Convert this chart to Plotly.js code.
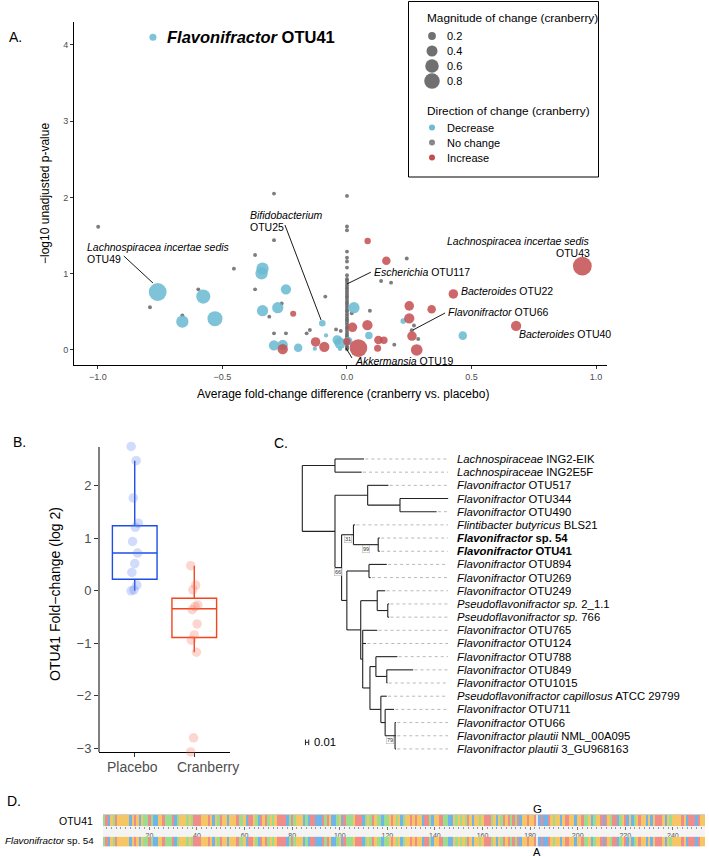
<!DOCTYPE html>
<html><head><meta charset="utf-8">
<script src="https://cdn.plot.ly/plotly-3.0.1.min.js"></script>
<style>html,body{margin:0;padding:0;background:#fff}</style>
</head><body><div id="chart" style="width:709px;height:857px"></div>
<script>
// ===== Panel A: volcano-style plot =====
const blueX   = [-0.779,-0.760,-0.577,-0.530,-0.661,-0.339,-0.343,-0.245,-0.278,-0.339,-0.099,-0.084,-0.293,-0.258,-0.196,-0.129,-0.039,-0.028,-0.028, 0.028, 0.088, 0.226, 0.465, 0.005];
const blueY   = [ 4.100, 0.760, 0.700, 0.410, 0.371, 1.066, 1.005, 0.795, 0.555, 0.515, 0.350, 0.190, 0.060, 0.066, 0.030, 0.017, 0.131, 0.088, 0.013, 0.555, 0.190, 0.380, 0.188, 0.118];
const blueMag = [ 0.165, 1.060, 0.660, 0.750, 0.500, 0.500, 0.500, 0.350, 0.420, 0.420, 0.145, 0.060, 0.350, 0.350, 0.240, 0.060, 0.300, 0.420, 0.060, 0.420, 0.185, 0.105, 0.240, 0.240];

const redX   = [-0.216,-0.258,-0.126,-0.091, 0.000, 0.022, 0.046, 0.083, 0.158, 0.082, 0.250, 0.250, 0.261, 0.280, 0.126, 0.148, 0.123, 0.945, 0.427, 0.340, 0.679];
const redY   = [ 0.476, 0.010, 0.105, 0.040, 0.110, 0.297, 0.025, 1.428, 1.170, 0.325, 0.578, 0.415, 0.183, 0.000, 0.131, 0.128, 0.022, 1.100, 0.734, 0.533, 0.315];
const redMag = [ 0.120, 0.350, 0.300, 0.350, 0.185, 0.300, 1.030, 0.135, 0.240, 0.350, 0.300, 0.350, 0.300, 0.450, 0.240, 0.185, 0.165, 1.170, 0.300, 0.240, 0.350];

const grayX = [-0.999,-0.293,-0.293,-0.369,-0.454,-0.597,-0.369,-0.791,-0.661,-0.262,-0.312,-0.087,-0.293,-0.245,-0.162,-0.149,-0.044,-0.025, 0.240, 0.137, 0.177, 0.019, 0.092, 0.269, 0.260, 0.286, 0.190,
  0,0,0,0,0,0,0,0,0,0,0,0,0,0,0,0,0,0,0,0,0,0,0,0,0,0,0,0,0,0,0,0,0,0,0,0,0,0,0,0,0,0,0];
const grayY = [ 1.616, 2.050, 1.440, 1.245, 1.066, 0.795, 0.795, 0.560, 0.454, 0.610, 0.437, 0.700, 0.218, 0.218, 0.218, 0.262, 0.270, 0.250, 1.200, 0.905, 0.883, 0.480, 0.515, 0.320, 0.258, 0.144, 0.070,
  2.02,1.62,1.57,1.29,1.21,1.16,1.08,0.98,0.93,0.91,0.88,0.85,0.82,0.80,0.77,0.74,0.71,0.69,0.66,0.63,0.61,0.58,0.55,0.52,0.50,0.47,0.44,0.41,0.39,0.36,0.33,0.30,0.28,0.25,0.22,0.19,0.17,0.14,0.11,0.08,0.05,0.03,0.01];
const grayMag = grayX.map(() => 0.03);

const aTickVals = [-1, -0.5, 0, 0.5, 1];
const aTickText = ['\u22121.0', '\u22120.5', '0.0', '0.5', '1.0'];
const magLegend = [0.2, 0.4, 0.6, 0.8];
const dirLegend = ['Decrease', 'No change', 'Increase'];

// ===== Panel B: OTU41 fold change =====
const groups = ['Placebo', 'Cranberry'];
const placeboVals   = [2.75, 2.48, 1.77, 1.29, 1.21, 0.94, 0.72, 0.52, 0.35, 0.11, 0.02, 0.00];
const cranberryVals = [0.48, 0.11, 0.02, -0.27, -0.30, -0.36, -0.63, -0.84, -0.94, -1.17, -2.80, -3.07];
const boxQ1 = [0.22, -0.89], boxMed = [0.72, -0.34], boxQ3 = [1.24, -0.14], boxLo = [0.00, -1.17], boxHi = [2.48, 0.48];
const bYTicks = [-3, -2, -1, 0, 1, 2];

// ===== Panel C: phylogenetic tree =====
const leafNames = [
  '<i>Lachnospiraceae</i> ING2-EIK', '<i>Lachnospiraceae</i> ING2E5F', '<i>Flavonifractor</i> OTU517',
  '<i>Flavonifractor</i> OTU344', '<i>Flavonifractor</i> OTU490', '<i>Flintibacter butyricus</i> BLS21',
  '<b><i>Flavonifractor</i> sp. 54</b>', '<b><i>Flavonifractor</i> OTU41</b>', '<i>Flavonifractor</i> OTU894',
  '<i>Flavonifractor</i> OTU269', '<i>Flavonifractor</i> OTU249', '<i>Pseudoflavonifractor sp.</i> 2_1.1',
  '<i>Pseudoflavonifractor sp.</i> 766', '<i>Flavonifractor</i> OTU765', '<i>Flavonifractor</i> OTU124',
  '<i>Flavonifractor</i> OTU788', '<i>Flavonifractor</i> OTU849', '<i>Flavonifractor</i> OTU1015',
  '<i>Pseudoflavonifractor capillosus</i> ATCC 29799', '<i>Flavonifractor</i> OTU711', '<i>Flavonifractor</i> OTU66',
  '<i>Flavonifractor plautii</i> NML_00A095', '<i>Flavonifractor plautii</i> 3_GU968163'];
const leafDepth = [0.187,0.180,0.261,0.442,0.407,0.160,0.235,0.235,0.256,0.207,0.251,0.263,0.263,0.227,0.193,0.288,0.336,0.258,0.256,0.278,0.284,0.284,0.284];
const tree = {d:0, c:[
  {d:0.099, c:[0,1]},
  {d:0.099, c:[
    {d:0.198, c:[2, {d:0.296, c:[3,4]}]},
    {d:0.119, b:66, c:[
      {d:0.155, b:31, c:[5, {d:0.230, b:99, c:[6,7]}]},
      {d:0.135, c:[
        {d:0.202, c:[8,9]},
        {d:0.177, c:[
          {d:0.227, c:[10, {d:0.259, c:[11,12]}]},
          {d:0.183, c:[13, 14, {d:0.205, c:[
            {d:0.223, c:[15, {d:0.256, c:[16,17]}]},
            {d:0.238, c:[18, {d:0.251, c:[19, {d:0.281, b:79, c:[20,21,22]}]}]}
          ]}]}
        ]}
      ]}
    ]}
  ]}
]};
const scaleBarLen = 0.01;

// ===== Panel D: V4 alignment =====
const seqOTU41 = "TACGTAGGGG"+"GCGAGCGTTA"+"TCCGGATTTA"+"CTGGGTGTAA"+"AGGGAGCGTA"+"GGCGGGATTG"+"CAAGTCAGAT"+"GTGAAAACTA"+"TGGGCTCAAC"+"CCATAGCCTG"+
                 "CATTTGAAAC"+"TGTAGTTCTT"+"GAGTGCTGGA"+"GAGGCAATCG"+"GAATTCCGTG"+"TGTAGCGGTG"+"AAATGCGTAG"+"ATATACGGAG"+"GAGCACCAGT"+"GGCGAAGGCG"+
                 "GATTGCTGGA"+"CAGTAACTGA"+"CGCTGAGGCG"+"CGAAAGCGTG"+"GGGAGCAAAC"+"AGG";
const seqSp54  = "TACGTAGGGG"+"GCGAGCGTTA"+"TCCGGATTTA"+"CTGGGTGTAA"+"AGGGAGCGTA"+"GGCGGGATTG"+"CAAGTCAGAT"+"GTGAAAACTA"+"TGGGCTCAAC"+"CCATAGCCTG"+
                 "CATTTGAAAC"+"TGTAGTTCTT"+"GAGTGCTGGA"+"GAGGCAATCG"+"GAATTCCGTG"+"TGTAGCGGTG"+"AAATGCGTAG"+"ATATACGGAG"+"GAACACCAGT"+"GGCGAAGGCG"+
                 "GATTGCTGGA"+"CAGTAACTGA"+"CGCTGAGGCG"+"CGAAAGCGTG"+"GGGAGCAAAC"+"AGG";
const rowNames = ['OTU41', '<i>Flavonifractor</i> sp. 54'];

// ================= drawing =================
const W = 709, H = 857;
const PX = v => v / W, PY = v => 1 - v / H;
const FONT = 'Liberation Sans, Arial, Helvetica, sans-serif';
const BLUE = '#6cbbd3', RED = '#c44d50', GRAY = '#666666';
const SIZEREF = 0.0066;
const traces = [];
const ann = [];
const shapes = [];

// Panel A points
traces.push({type:'scatter', mode:'markers', x:grayX, y:grayY, xaxis:'x', yaxis:'y', cliponaxis:false,
  marker:{size:grayMag, sizemode:'area', sizeref:SIZEREF*0.6, color:GRAY, opacity:0.85, line:{width:0}}, hoverinfo:'skip'});
traces.push({type:'scatter', mode:'markers', x:blueX, y:blueY, xaxis:'x', yaxis:'y', cliponaxis:false,
  marker:{size:blueMag, sizemode:'area', sizeref:SIZEREF, color:BLUE, opacity:0.88, line:{width:0}}, hoverinfo:'skip'});
traces.push({type:'scatter', mode:'markers', x:redX, y:redY, xaxis:'x', yaxis:'y', cliponaxis:false,
  marker:{size:redMag, sizemode:'area', sizeref:SIZEREF, color:RED, opacity:0.85, line:{width:0}}, hoverinfo:'skip'});

// Panel A labels (text + leader lines), in data coordinates
const aFont = {family:FONT, size:10.5, color:'black'};
function aText(x, y, text, anchor){ ann.push({xref:'x', yref:'y', x:x, y:y, text:text, showarrow:false, xanchor:anchor||'left', yanchor:'middle', font:aFont}); }
function aLine(x0, y0, x1, y1){ shapes.push({type:'line', xref:'x', yref:'y', x0:x0, y0:y0, x1:x1, y1:y1, line:{color:'black', width:0.9}}); }
ann.push({xref:'x', yref:'y', x:-0.731, y:4.10, text:'<b><i>Flavonifractor</i> OTU41</b>', showarrow:false, xanchor:'left', yanchor:'middle', font:{family:FONT, size:16.5, color:'black'}});
aText(-1.052, 1.350, '<i>Lachnospiracea incertae sedis</i>');
aText(-1.052, 1.193, 'OTU49');
aLine(-0.896, 1.232, -0.779, 0.878);
aText(-0.398, 1.770, '<i>Bifidobacterium</i>');
aText(-0.398, 1.610, 'OTU25');
aLine(-0.249, 1.638, -0.104, 0.393);
aText(0.100, 1.020, '<i>Escherichia</i> OTU117');
aLine(0.000, 0.865, 0.096, 1.020);
aText(0.983, 1.432, '<i>Lachnospiracea incertae sedis</i>', 'right');
aText(0.983, 1.275, 'OTU43', 'right');
aText(0.451, 0.769, '<i>Bacteroides</i> OTU22');
aText(0.398, 0.494, '<i>Flavonifractor</i> OTU66');
aLine(0.394, 0.485, 0.265, 0.262);
aText(0.681, 0.206, '<i>Bacteroides</i> OTU40');
aText(0.024, -0.140, '<i>Akkermansia</i> OTU19');
aLine(-0.004, 0.026, 0.020, -0.105);

// Panel A legend (hidden axes x5/y5 in pixel-like units of the legend box)
shapes.push({type:'rect', xref:'paper', yref:'paper', x0:PX(408.5), x1:PX(598.5), y0:PY(177), y1:PY(1.5), line:{color:'black', width:1}, fillcolor:'white', layer:'below'});
const lgFont = {family:FONT, size:11, color:'black'};
ann.push({xref:'x5', yref:'y5', x:17, y:17, text:'Magnitude of change (cranberry)', showarrow:false, xanchor:'left', yanchor:'middle', font:{family:FONT, size:11.8, color:'black'}});
ann.push({xref:'x5', yref:'y5', x:17, y:110, text:'Direction of change (cranberry)', showarrow:false, xanchor:'left', yanchor:'middle', font:{family:FONT, size:11.8, color:'black'}});
const magLegY = magLegend.map((v, i) => 35 + i * 15);
const dirLegY = dirLegend.map((v, i) => 126.5 + i * 15);
traces.push({type:'scatter', mode:'markers', xaxis:'x5', yaxis:'y5', x:magLegend.map(() => 24), y:magLegY, cliponaxis:false,
  marker:{size:magLegend, sizemode:'area', sizeref:SIZEREF, color:'#333333', line:{width:0}}, hoverinfo:'skip'});
traces.push({type:'scatter', mode:'markers', xaxis:'x5', yaxis:'y5', x:dirLegend.map(() => 24), y:dirLegY, cliponaxis:false,
  marker:{size:6, color:[BLUE, '#888888', RED], line:{width:0}}, hoverinfo:'skip'});
magLegend.forEach((v, i) => ann.push({xref:'x5', yref:'y5', x:37, y:magLegY[i], text:v.toFixed(1), showarrow:false, xanchor:'left', yanchor:'middle', font:lgFont}));
dirLegend.forEach((v, i) => ann.push({xref:'x5', yref:'y5', x:37, y:dirLegY[i], text:v, showarrow:false, xanchor:'left', yanchor:'middle', font:lgFont}));

// Axis titles for A
ann.push({xref:'paper', yref:'paper', x:PX(343), y:PY(394), text:'Average fold-change difference (cranberry vs. placebo)', showarrow:false, xanchor:'center', yanchor:'middle', font:{family:FONT, size:12, color:'black'}});
ann.push({xref:'paper', yref:'paper', x:PX(45), y:PY(194), text:'\u2212log10 unadjusted p-value', textangle:-90, showarrow:false, xanchor:'center', yanchor:'middle', font:{family:FONT, size:12, color:'black'}});

// Panel B (y axis extended a little beyond the drawn axis line so end points are not clipped)
const bCols = [{line:'#1d4fe6', pt:'rgba(90,125,240,0.28)'}, {line:'#f2461f', pt:'rgba(245,110,85,0.28)'}];
groups.forEach((g, i) => {
  traces.push({type:'box', xaxis:'x2', yaxis:'y2', x:[g], q1:[boxQ1[i]], median:[boxMed[i]], q3:[boxQ3[i]], lowerfence:[boxLo[i]], upperfence:[boxHi[i]],
    width:0.75, boxpoints:false, fillcolor:'rgba(255,255,255,0)', line:{color:bCols[i].line, width:1.4}, whiskerwidth:0, hoverinfo:'skip'});
});
const jit = k => ((((k * 7) % 11) / 10) - 0.5) * 0.12;
[placeboVals, cranberryVals].forEach((vals, i) => {
  traces.push({type:'scatter', mode:'markers', xaxis:'x7', yaxis:'y2', cliponaxis:false,
    x:vals.map((v, k) => i + jit(k)), y:vals, marker:{size:9.5, color:bCols[i].pt, line:{width:0}}, hoverinfo:'skip'});
});
shapes.push({type:'line', xref:'paper', yref:'y2', x0:PX(99), x1:PX(99), y0:-3.07, y1:2.74, line:{color:'black', width:1}});
ann.push({xref:'paper', yref:'paper', x:PX(55), y:PY(594), text:'OTU41 Fold\u2212change (log 2)', textangle:-90, showarrow:false, xanchor:'center', yanchor:'middle', font:{family:FONT, size:14, color:'black'}});
[[groups[0], 132], [groups[1], 207.5]].forEach(g =>
  ann.push({xref:'paper', yref:'paper', x:PX(g[1]), y:PY(767), text:g[0], showarrow:false, xanchor:'center', yanchor:'middle', font:{family:FONT, size:14, color:'#4d4d4d'}}));

// Panel C tree
const dashEnd = 0.4415, labelX = 0.4627;
const segX = [], segY = [], dX = [], dY = [], boots = [];
function walk(node, parentD){
  if (typeof node === 'number'){
    const d = leafDepth[node];
    segX.push(parentD, d, null); segY.push(node, node, null);
    if (d < dashEnd){ dX.push(d + 0.004, dashEnd, null); dY.push(node, node, null); }
    return node;
  }
  const ys = node.c.map(ch => walk(ch, node.d));
  const lo = Math.min(...ys), hi = Math.max(...ys), y = (lo + hi) / 2;
  segX.push(node.d, node.d, null); segY.push(lo, hi, null);
  if (parentD !== null){ segX.push(parentD, node.d, null); segY.push(y, y, null); }
  if (node.b) boots.push({x:(parentD + node.d) / 2, y:y, t:node.b});
  return y;
}
walk(tree, null);
traces.push({type:'scatter', mode:'lines', xaxis:'x3', yaxis:'y3', x:dX, y:dY, line:{color:'#b8b8b8', width:1, dash:'3px,3px'}, hoverinfo:'skip'});
traces.push({type:'scatter', mode:'lines', xaxis:'x3', yaxis:'y3', x:segX, y:segY, line:{color:'#222', width:1.1}, hoverinfo:'skip'});
leafNames.forEach((n, i) => ann.push({xref:'x3', yref:'y3', x:labelX, y:i, text:n, showarrow:false, xanchor:'left', yanchor:'middle', font:{family:FONT, size:11.3, color:'black'}}));
boots.forEach(b => ann.push({xref:'x3', yref:'y3', x:b.x, y:b.y + 0.32, text:String(b.t), showarrow:false, xanchor:'center', yanchor:'middle',
  font:{family:FONT, size:5.5, color:'#333'}, bordercolor:'#aaa', borderwidth:0.5, borderpad:0.5, bgcolor:'rgba(255,255,255,0.9)'}));
traces.push({type:'scatter', mode:'lines+markers', xaxis:'x3', yaxis:'y3', x:[0.0095, 0.0095 + scaleBarLen], y:[21.5, 21.5],
  line:{color:'#222', width:1}, marker:{symbol:'line-ns-open', size:4, color:'#222', line:{width:1, color:'#222'}}, hoverinfo:'skip'});
ann.push({xref:'x3', yref:'y3', x:0.029, y:21.5, text:String(scaleBarLen), showarrow:false, xanchor:'left', yanchor:'middle', font:{family:FONT, size:11.3, color:'black'}});

// Panel D alignment
const NUC = {A:0, C:1, G:2, T:3};
const positions = Array.from(seqOTU41, (c, i) => i + 1);
const mism = positions.filter((p, i) => seqOTU41[i] !== seqSp54[i]);
function codes(s, o){ return Array.from(s, (c, i) => (c !== o[i]) ? 4 : NUC[c]); }
const nucScale = [[0,'#f08c8a'],[0.2,'#f08c8a'],[0.2,'#6fb4ea'],[0.4,'#6fb4ea'],[0.4,'#f6c664'],[0.6,'#f6c664'],[0.6,'#9bdd8e'],[0.8,'#9bdd8e'],[0.8,'#e6e6e6'],[1,'#e6e6e6']];
traces.push({type:'heatmap', xaxis:'x4', yaxis:'y4', x:positions, y:[0], z:[codes(seqOTU41, seqSp54)], zmin:-0.5, zmax:4.5, colorscale:nucScale, showscale:false, hoverinfo:'skip'});
traces.push({type:'heatmap', xaxis:'x4', yaxis:'y6', x:positions, y:[0], z:[codes(seqSp54, seqOTU41)], zmin:-0.5, zmax:4.5, colorscale:nucScale, showscale:false, hoverinfo:'skip'});
mism.forEach(p => {
  ann.push({xref:'x4', yref:'paper', x:p, y:PY(808.5), text:seqOTU41[p-1], showarrow:false, xanchor:'center', yanchor:'middle', font:{family:FONT, size:11.5, color:'black'}});
  ann.push({xref:'x4', yref:'paper', x:p, y:PY(851.5), text:seqSp54[p-1], showarrow:false, xanchor:'center', yanchor:'middle', font:{family:FONT, size:11, color:'black'}});
});
ann.push({xref:'paper', yref:'paper', x:PX(95), y:PY(820.5), text:rowNames[0], showarrow:false, xanchor:'right', yanchor:'middle', font:{family:FONT, size:10.5, color:'black'}});
ann.push({xref:'paper', yref:'paper', x:PX(96), y:PY(840), text:rowNames[1], showarrow:false, xanchor:'right', yanchor:'middle', font:{family:FONT, size:9.8, color:'black'}});
shapes.push({type:'rect', xref:'paper', yref:'paper', x0:PX(103), x1:PX(705), y0:PY(836), y1:PY(826), fillcolor:'#f4f4f4', line:{width:0}, layer:'below'});
shapes.push({type:'line', xref:'paper', yref:'paper', x0:PX(103), x1:PX(705), y0:PY(814.5), y1:PY(814.5), line:{color:'#cfcfcf', width:1}});

// Panel letters
[['A.', 7, 37], ['B.', 11, 442], ['C.', 272, 443], ['D.', 5, 801]].forEach(l =>
  ann.push({xref:'paper', yref:'paper', x:PX(l[1]), y:PY(l[2]), text:l[0], showarrow:false, xanchor:'left', yanchor:'middle', font:{family:FONT, size:14, color:'black'}}));

const axBase = {showgrid:false, zeroline:false, showline:true, linecolor:'black', linewidth:1, ticks:'outside', tickcolor:'#333', fixedrange:true};
const layout = {
  width:W, height:H, margin:{l:0, r:0, t:0, b:0}, paper_bgcolor:'white', plot_bgcolor:'rgba(0,0,0,0)',
  showlegend:false, font:{family:FONT}, boxmode:'overlay',
  xaxis: Object.assign({}, axBase, {domain:[PX(74), PX(607)], anchor:'y', range:[-1.096, 1.044], tickmode:'array', tickvals:aTickVals, ticktext:aTickText, ticklen:3, tickfont:{size:9, color:'#4d4d4d'}}),
  yaxis: Object.assign({}, axBase, {domain:[PY(365), PY(22)], anchor:'x', range:[-0.197, 4.30], tickmode:'array', tickvals:[0,1,2,3,4], ticklen:3, tickfont:{size:9, color:'#4d4d4d'}}),
  xaxis2: Object.assign({}, axBase, {domain:[PX(99), PX(230)], anchor:'free', position:PY(752), type:'category', categoryorder:'array', categoryarray:groups, range:[-0.6, 1.6], ticklen:4, showticklabels:false}),
  yaxis2: Object.assign({}, axBase, {domain:[PY(764), PY(435)], anchor:'x2', range:[-3.299, 2.969], showline:false, tickmode:'array', tickvals:bYTicks, ticklen:4, tickfont:{size:13, color:'#4d4d4d'}}),
  xaxis7: {domain:[PX(99), PX(230)], anchor:'free', position:PY(752), range:[-0.6, 1.6], visible:false, fixedrange:true},
  xaxis3: {domain:[PX(290), PX(709)], anchor:'y3', range:[-0.0373, 1.2324], visible:false, fixedrange:true},
  yaxis3: {domain:[PY(760), PY(440)], anchor:'x3', range:[22.84, -1.44], visible:false, fixedrange:true},
  xaxis4: {domain:[PX(103), PX(705)], anchor:'y4', side:'bottom', range:[0.5, 253.5], showgrid:false, zeroline:false, showline:false,
           tickmode:'linear', tick0:0, dtick:20, ticks:'outside', ticklen:3, tickcolor:'#777', tickfont:{size:7, color:'#555'},
           minor:{ticks:'outside', dtick:2, tick0:0, ticklen:2, tickcolor:'#999'}, fixedrange:true},
  yaxis4: {domain:[PY(826), PY(815)], anchor:'x4', range:[-0.5, 0.5], visible:false, fixedrange:true},
  yaxis6: {domain:[PY(846.7), PY(836.5)], anchor:'x4', range:[-0.5, 0.5], visible:false, fixedrange:true},
  xaxis5: {domain:[PX(408), PX(598)], anchor:'y5', range:[0, 190], visible:false, fixedrange:true},
  yaxis5: {domain:[PY(177), PY(1)], anchor:'x5', range:[176, 0], visible:false, fixedrange:true},
  annotations: ann, shapes: shapes
};
Plotly.newPlot('chart', traces, layout, {displayModeBar:false, staticPlot:true});
</script></body></html>
